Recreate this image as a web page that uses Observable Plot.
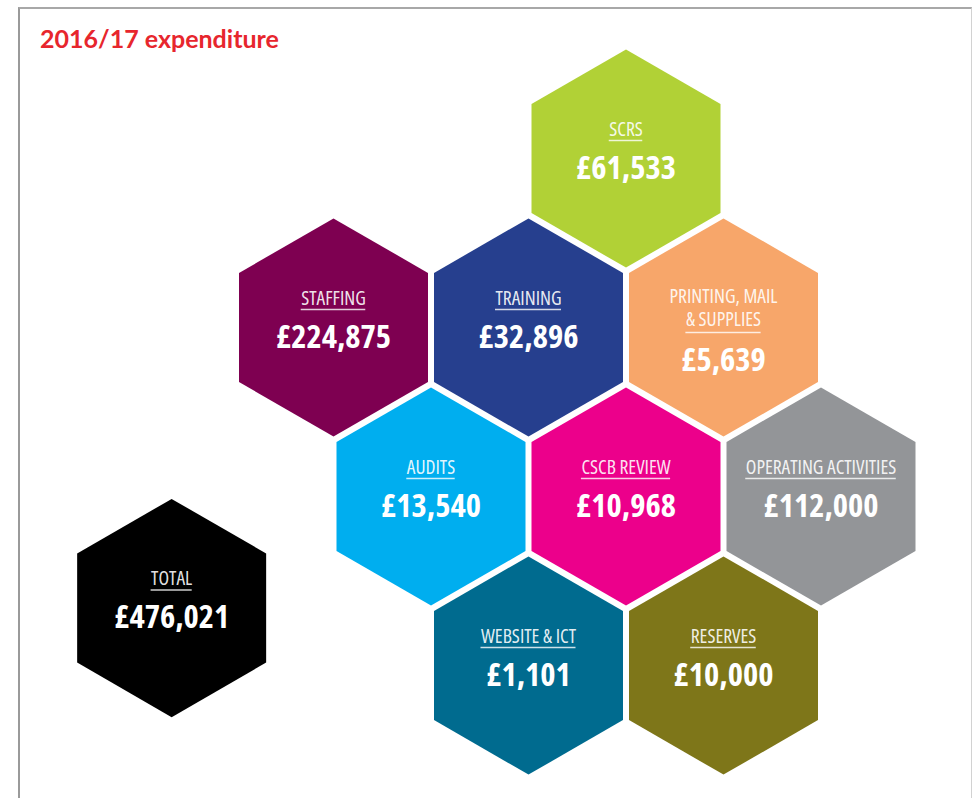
<!DOCTYPE html>
<html>
<head>
<meta charset="utf-8">
<script src="https://cdn.jsdelivr.net/npm/d3@7"></script>
<script src="https://cdn.jsdelivr.net/npm/@observablehq/plot@0.6"></script>
<style>
  html, body { margin: 0; padding: 0; background: #fff; }
  body { width: 972px; height: 798px; overflow: hidden; position: relative; }
  #frame { position: absolute; left: 18px; top: 7px; width: 951px; height: 830px;
           border-left: 2px solid #9a9a9a; border-top: 2px solid #a8a8a8; border-right: 1px solid #d2d2d2; }
  #title { position: absolute; left: 40px; top: 26px; margin: 0; font: bold 25px Lato, "Open Sans", sans-serif;
           line-height: 25px; color: #e7262d; white-space: nowrap; }
  #chart { position: absolute; left: 0; top: 70px; }
  #chart g[font-weight="bold"] { font-stretch: 75%; }
  #chart g[font-size="19.5"] { font-stretch: 75%; }
  #measure { position: absolute; left: 0; top: 0; visibility: hidden; white-space: pre; font-family: "Open Sans", sans-serif;
             font-size: 19.5px; font-stretch: 75%; }
</style>
</head>
<body>
<div id="frame"></div>
<h1 id="title">2016/17 expenditure</h1>
<div id="chart"></div>
<span id="measure"></span>
<script>
// ---- data ----
const categories = ["SCRS", "STAFFING", "TRAINING", "PRINTING, MAIL\n& SUPPLIES", "AUDITS",
                    "CSCB REVIEW", "OPERATING ACTIVITIES", "WEBSITE & ICT", "RESERVES", "TOTAL"];
const amounts = [61533, 224875, 32896, 5639, 13540, 10968, 112000, 1101, 10000, 476021];
const colors = ["#b1d136", "#7e0051", "#263f8e", "#f7a66a", "#00aeef",
                "#ec008b", "#939598", "#006b8f", "#7e7619", "#000000"];
// honeycomb layout (half-column steps, rows)
const gridCol = [3, 0, 2, 4, 1, 3, 5, 2, 4, -1.66];
const gridRow = [0, 1, 1, 1, 2, 2, 2, 3, 3, 2.66];

// ---- build table ----
const font = '"Open Sans", sans-serif';
const labelSize = 19.5, valueSize = 32.5;
const meas = document.getElementById("measure");
const textWidth = s => { meas.textContent = s; return meas.getBoundingClientRect().width; };
const colPx = 97.5; // pixels per half-column
const data = categories.map((c, i) => {
  const lines = c.split("\n");
  return {
    label: c,
    lines: lines.length,
    value: "£" + d3.format(",")(amounts[i]),
    color: colors[i],
    col: gridCol[i],
    row: gridRow[i],
    half: textWidth(lines[lines.length - 1]) / 2 / colPx
  };
});
meas.remove();
const one = d => d.lines === 1, two = d => d.lines > 1;

const textCommon = {x: "col", y: "row", fill: "white", fontFamily: font, lineAnchor: "bottom"};
const labelOpts = {...textCommon, text: "label", fontSize: labelSize, fillOpacity: 0.9, lineHeight: 23 / labelSize};
const valueOpts = {...textCommon, text: "value", fontSize: valueSize, fontWeight: "bold"};
const ruleOpts = {y: "row", x1: d => d.col - d.half, x2: d => d.col + d.half, stroke: "white", strokeOpacity: 0.8, strokeWidth: 1.5};

const chart = Plot.plot({
  width: 972,
  height: 728,
  margin: 0,
  style: {background: "transparent", overflow: "visible"},
  x: {type: "linear", domain: [-333 / colPx, (972 - 333) / colPx], range: [0, 972], axis: null},
  y: {type: "linear", domain: [-(158 - 70) / 169, (798 - 158) / 169], range: [0, 728], axis: null},
  color: {type: "identity"},
  marks: [
    Plot.dot(data, {x: "col", y: "row", r: 94.5, symbol: "hexagon", fill: "color", stroke: null}),
    Plot.text(data, {...labelOpts, filter: one, dy: -23}),
    Plot.text(data, {...labelOpts, filter: two, dy: -2}),
    Plot.ruleY(data, {...ruleOpts, filter: one, dy: -18}),
    Plot.ruleY(data, {...ruleOpts, filter: two, dy: 5}),
    Plot.text(data, {...valueOpts, filter: one, dy: 20}),
    Plot.text(data, {...valueOpts, filter: two, dy: 43})
  ]
});
document.getElementById("chart").append(chart);
</script>
</body>
</html>
